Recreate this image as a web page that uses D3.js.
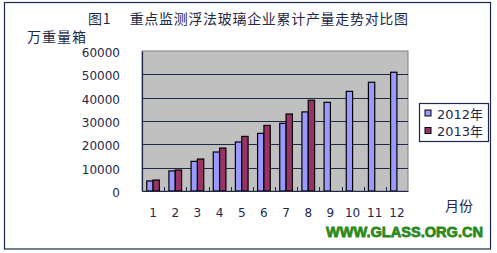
<!DOCTYPE html>
<html>
<head>
<meta charset="utf-8">
<script src="https://cdn.jsdelivr.net/npm/d3@7"></script>
<style>
  body { margin: 0; background: #fff; }
  svg { display: block; }
</style>
</head>
<body>
<svg id="chart" width="497" height="253"></svg>
<script>
// data
const months = ["1", "2", "3", "4", "5", "6", "7", "8", "9", "10", "11", "12"];
const seriesNames = ["2012年", "2013年"];
const values2012 = [4300, 8600, 12700, 16700, 21000, 24700, 29000, 33900, 38000, 42700, 46600, 50900];
const values2013 = [4700, 9000, 13700, 18400, 23400, 28100, 33000, 38900];
const yTicks = [0, 10000, 20000, 30000, 40000, 50000, 60000];
const colors = ["#9999ff", "#993366"];
const ink = "#1f2947";

const svg = d3.select("#chart");
const plot = { left: 142, right: 408, top: 51, bottom: 191 };

// outer frame
svg.append("rect")
  .attr("x", 4.5).attr("y", 2.5)
  .attr("width", 486).attr("height", 246.5)
  .attr("fill", "#fff")
  .attr("stroke", ink)
  .attr("stroke-width", 1.2);

const x = d3.scaleBand().domain(months).range([plot.left, plot.right]);
const xs = d3.scaleBand().domain(seriesNames).range([0, x.bandwidth()]).paddingOuter(0.75);
const y = d3.scaleLinear().domain([0, 60000]).range([plot.bottom, plot.top]);

// plot background
svg.append("rect")
  .attr("x", plot.left).attr("y", plot.top)
  .attr("width", plot.right - plot.left).attr("height", plot.bottom - plot.top)
  .attr("fill", "#c0c0c0")
  .attr("stroke", "#808080");

// gridlines
svg.append("g")
  .selectAll("line")
  .data(yTicks.slice(1, -1))
  .join("line")
  .attr("x1", plot.left).attr("x2", plot.right)
  .attr("y1", d => Math.round(y(d)) + 0.5).attr("y2", d => Math.round(y(d)) + 0.5)
  .attr("stroke", ink)
  .attr("stroke-width", 1.2);

// bars
const rows = months.map((m, i) => ({ month: m, vals: [values2012[i], values2013[i]] }));
svg.append("g")
  .selectAll("g")
  .data(rows)
  .join("g")
  .attr("transform", d => `translate(${x(d.month)},0)`)
  .selectAll("rect")
  .data(d => d.vals.map((v, j) => ({ name: seriesNames[j], v, c: colors[j] })).filter(d => d.v != null))
  .join("rect")
  .attr("x", d => xs(d.name))
  .attr("y", d => y(d.v))
  .attr("width", xs.bandwidth())
  .attr("height", d => plot.bottom - y(d.v))
  .attr("fill", d => d.c)
  .attr("stroke", "#000")
  .attr("stroke-width", 1.2);

// axes
const yAxis = svg.append("g")
  .attr("transform", `translate(${plot.left},0)`)
  .call(d3.axisLeft(y).tickValues(yTicks).tickFormat(d3.format("d")).tickSize(0).tickPadding(22));
yAxis.select(".domain").attr("stroke", ink).attr("stroke-width", 1.2);
yAxis.selectAll("text")
  .attr("dy", "0.45em")
  .attr("fill", ink)
  .style("font", "12px 'DejaVu Sans'");

const xAxis = svg.append("g")
  .attr("transform", `translate(0,${plot.bottom})`)
  .call(d3.axisBottom(x).tickSize(0).tickPadding(17));
xAxis.select(".domain").attr("stroke", ink).attr("stroke-width", 1.2);
xAxis.selectAll("text")
  .attr("fill", ink)
  .style("font", "12px 'DejaVu Sans'");

// category boundary ticks (pointing up)
svg.append("g")
  .selectAll("line")
  .data(months.slice(1))
  .join("line")
  .attr("x1", d => Math.round(x(d)) + 0.5).attr("x2", d => Math.round(x(d)) + 0.5)
  .attr("y1", plot.bottom).attr("y2", plot.bottom - 4)
  .attr("stroke", ink);

// titles
const cjk = "'Noto Sans CJK SC', sans-serif";
svg.append("text")
  .attr("x", 88).attr("y", 24)
  .attr("fill", ink)
  .style("font", `14px ${cjk}`)
  .text("图1　 重点监测浮法玻璃企业累计产量走势对比图")
  .attr("textLength", 320);

svg.append("text")
  .attr("x", 27).attr("y", 42)
  .attr("fill", ink)
  .style("font", `14px ${cjk}`)
  .attr("textLength", 59)
  .text("万重量箱");

svg.append("text")
  .attr("x", 445).attr("y", 211)
  .attr("fill", ink)
  .style("font", `14px ${cjk}`)
  .attr("textLength", 28)
  .text("月份");

// legend
const legend = svg.append("g");
legend.append("rect")
  .attr("x", 419.5).attr("y", 103.5)
  .attr("width", 69).attr("height", 38)
  .attr("fill", "#fff")
  .attr("stroke", ink)
  .attr("stroke-width", 1.2);
const item = legend.selectAll("g.item")
  .data(seriesNames)
  .join("g")
  .attr("class", "item")
  .attr("transform", (d, i) => `translate(425,${110 + i * 17.5})`);
item.append("rect")
  .attr("width", 6).attr("height", 6)
  .attr("fill", (d, i) => colors[i])
  .attr("stroke", "#000")
  .attr("stroke-width", 1);
item.append("text")
  .attr("x", 12).attr("y", 8.5)
  .attr("fill", ink)
  .style("font", `13px 'DejaVu Sans', ${cjk}`)
  .text(d => d);

// watermark
svg.append("text")
  .attr("x", 326).attr("y", 237)
  .attr("fill", "#2b8a1b")
  .attr("stroke", "#2b8a1b")
  .attr("stroke-width", 0.8)
  .style("font", "bold 15px 'Liberation Sans', Arial, sans-serif")
  .attr("textLength", 157)
  .attr("lengthAdjust", "spacingAndGlyphs")
  .text("WWW.GLASS.ORG.CN");
</script>
</body>
</html>
